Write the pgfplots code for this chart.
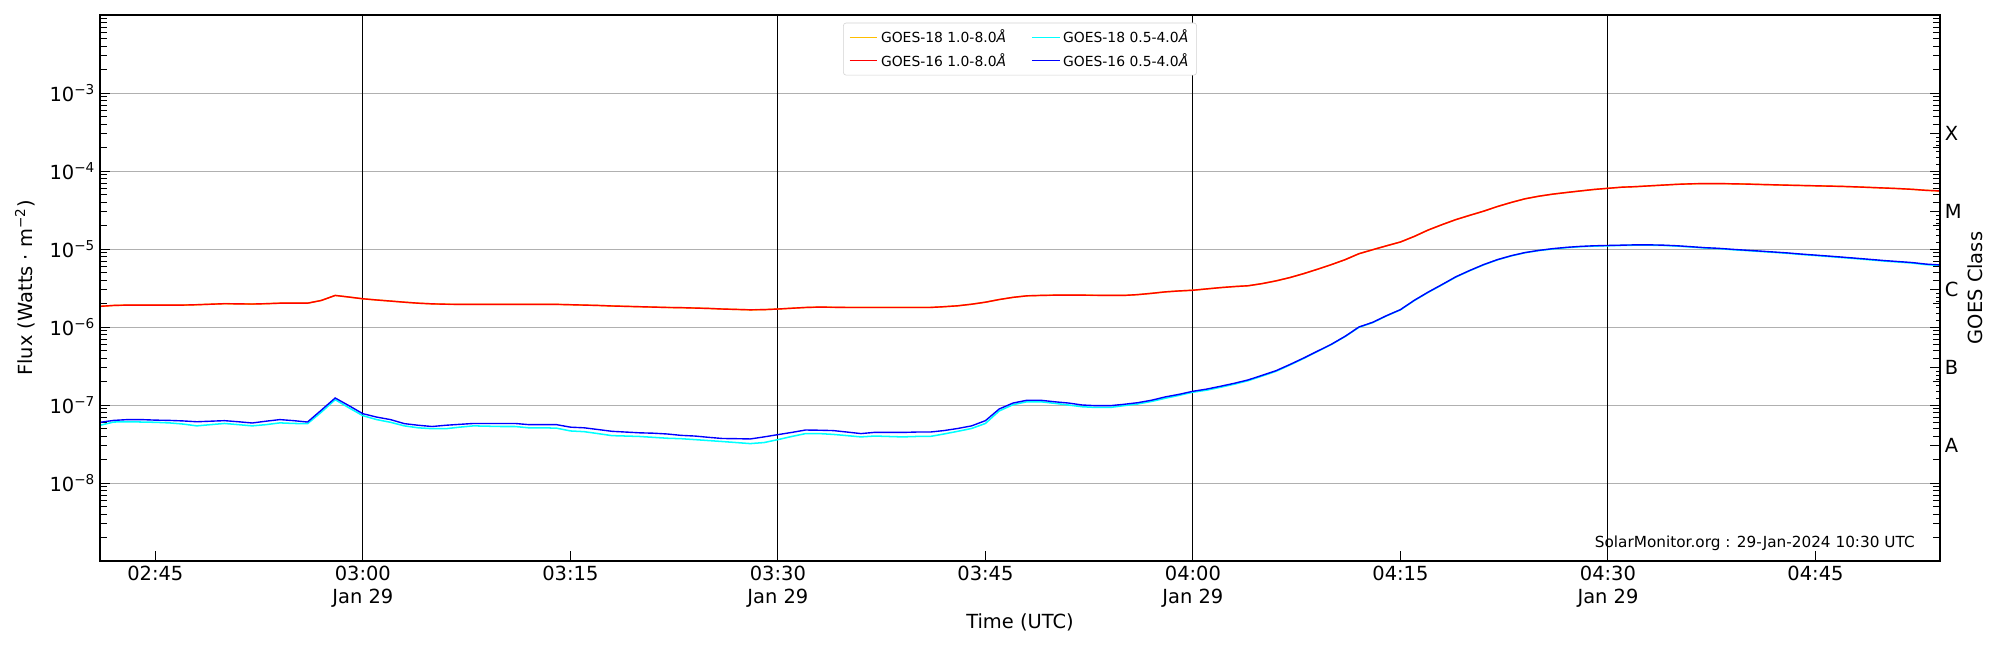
\documentclass[border=0pt]{standalone}
\usepackage{fontspec}
\setmainfont{DejaVu Sans}
\usepackage{pgfplots}
\usepackage{pgfplotstable}
\pgfplotsset{compat=1.18}
\definecolor{goldc}{RGB}{255,190,0}
\definecolor{cyanc}{RGB}{0,255,255}
\definecolor{redc}{RGB}{255,0,0}
\definecolor{bluec}{RGB}{0,0,255}
\definecolor{gridc}{RGB}{176,176,176}
\definecolor{legc}{RGB}{210,210,210}
\newlength\px
\setlength\px{0.72pt}

\pgfplotstableread{
m red blue cyan
41 1.84e-6 6.00e-8 5.50e-8
42 1.89e-6 6.35e-8 6.05e-8
43 1.91e-6 6.50e-8 6.10e-8
44 1.91e-6 6.50e-8 6.05e-8
45 1.91e-6 6.40e-8 6.00e-8
46 1.91e-6 6.35e-8 5.90e-8
47 1.91e-6 6.25e-8 5.70e-8
48 1.93e-6 6.10e-8 5.40e-8
49 1.96e-6 6.20e-8 5.60e-8
50 1.99e-6 6.30e-8 5.80e-8
51 1.98e-6 6.10e-8 5.60e-8
52 1.97e-6 5.88e-8 5.40e-8
53 1.99e-6 6.20e-8 5.60e-8
54 2.02e-6 6.50e-8 5.90e-8
55 2.02e-6 6.30e-8 5.80e-8
56 2.02e-6 6.05e-8 5.76e-8
57 2.19e-6 8.60e-8 8.10e-8
58 2.54e-6 1.23e-7 1.17e-7
59 2.42e-6 9.80e-8 9.20e-8
60 2.30e-6 7.74e-8 7.30e-8
61 2.22e-6 7.00e-8 6.50e-8
62 2.15e-6 6.50e-8 6.00e-8
63 2.08e-6 5.77e-8 5.40e-8
64 2.02e-6 5.50e-8 5.10e-8
65 1.98e-6 5.30e-8 4.97e-8
66 1.96e-6 5.50e-8 4.97e-8
67 1.95e-6 5.65e-8 5.20e-8
68 1.95e-6 5.80e-8 5.40e-8
69 1.95e-6 5.80e-8 5.35e-8
70 1.95e-6 5.80e-8 5.30e-8
71 1.95e-6 5.80e-8 5.30e-8
72 1.95e-6 5.60e-8 5.10e-8
73 1.95e-6 5.60e-8 5.10e-8
74 1.95e-6 5.60e-8 5.05e-8
75 1.93e-6 5.20e-8 4.65e-8
76 1.91e-6 5.10e-8 4.55e-8
77 1.89e-6 4.85e-8 4.30e-8
78 1.86e-6 4.60e-8 4.05e-8
79 1.84e-6 4.50e-8 4.00e-8
80 1.82e-6 4.40e-8 3.95e-8
81 1.80e-6 4.35e-8 3.85e-8
82 1.78e-6 4.25e-8 3.75e-8
83 1.77e-6 4.08e-8 3.70e-8
84 1.75e-6 4.00e-8 3.60e-8
85 1.73e-6 3.85e-8 3.50e-8
86 1.70e-6 3.72e-8 3.40e-8
87 1.68e-6 3.70e-8 3.30e-8
88 1.66e-6 3.67e-8 3.20e-8
89 1.67e-6 3.90e-8 3.30e-8
90 1.70e-6 4.17e-8 3.60e-8
91 1.74e-6 4.45e-8 3.95e-8
92 1.78e-6 4.78e-8 4.30e-8
93 1.80e-6 4.75e-8 4.30e-8
94 1.79e-6 4.70e-8 4.20e-8
95 1.78e-6 4.50e-8 4.05e-8
96 1.78e-6 4.30e-8 3.90e-8
97 1.78e-6 4.46e-8 4.00e-8
98 1.78e-6 4.45e-8 3.95e-8
99 1.78e-6 4.45e-8 3.90e-8
100 1.78e-6 4.50e-8 3.95e-8
101 1.78e-6 4.50e-8 3.95e-8
102 1.82e-6 4.70e-8 4.25e-8
103 1.87e-6 5.00e-8 4.60e-8
104 1.96e-6 5.40e-8 5.00e-8
105 2.08e-6 6.30e-8 5.80e-8
106 2.25e-6 8.90e-8 8.40e-8
107 2.40e-6 1.06e-7 1.01e-7
108 2.51e-6 1.15e-7 1.10e-7
109 2.54e-6 1.15e-7 1.10e-7
110 2.56e-6 1.10e-7 1.05e-7
111 2.56e-6 1.06e-7 1.00e-7
112 2.56e-6 1.00e-7 9.50e-8
113 2.55e-6 9.80e-8 9.30e-8
114 2.54e-6 9.80e-8 9.30e-8
115 2.54e-6 1.02e-7 9.80e-8
116 2.60e-6 1.07e-7 1.03e-7
117 2.70e-6 1.15e-7 1.11e-7
118 2.82e-6 1.27e-7 1.22e-7
119 2.90e-6 1.37e-7 1.33e-7
120 2.96e-6 1.50e-7 1.46e-7
121 3.08e-6 1.60e-7 1.55e-7
122 3.20e-6 1.74e-7 1.69e-7
123 3.30e-6 1.90e-7 1.85e-7
124 3.38e-6 2.10e-7 2.05e-7
125 3.60e-6 2.40e-7 2.35e-7
126 3.90e-6 2.75e-7 2.70e-7
127 4.30e-6 3.30e-7 3.25e-7
128 4.83e-6 4.00e-7 3.95e-7
129 5.50e-6 4.90e-7 4.85e-7
130 6.30e-6 6.00e-7 5.95e-7
131 7.30e-6 7.60e-7 7.55e-7
132 8.70e-6 1.00e-6 9.90e-7
133 9.80e-6 1.15e-6 1.14e-6
134 1.10e-5 1.40e-6 1.39e-6
135 1.23e-5 1.67e-6 1.66e-6
136 1.45e-5 2.20e-6 2.18e-6
137 1.75e-5 2.80e-6 2.78e-6
138 2.05e-5 3.50e-6 3.47e-6
139 2.38e-5 4.40e-6 4.36e-6
140 2.70e-5 5.30e-6 5.26e-6
141 3.05e-5 6.30e-6 6.25e-6
142 3.50e-5 7.30e-6 7.25e-6
143 3.95e-5 8.20e-6 8.15e-6
144 4.40e-5 9.00e-6 8.95e-6
145 4.75e-5 9.60e-6 9.55e-6
146 5.05e-5 1.01e-5 1.00e-5
147 5.30e-5 1.05e-5 1.04e-5
148 5.55e-5 1.08e-5 1.07e-5
149 5.80e-5 1.10e-5 1.09e-5
150 6.00e-5 1.11e-5 1.10e-5
151 6.20e-5 1.12e-5 1.11e-5
152 6.30e-5 1.13e-5 1.12e-5
153 6.45e-5 1.13e-5 1.12e-5
154 6.60e-5 1.12e-5 1.11e-5
155 6.75e-5 1.10e-5 1.09e-5
156 6.85e-5 1.07e-5 1.06e-5
157 6.90e-5 1.04e-5 1.03e-5
158 6.90e-5 1.02e-5 1.01e-5
159 6.85e-5 9.90e-6 9.80e-6
160 6.80e-5 9.65e-6 9.55e-6
161 6.72e-5 9.40e-6 9.30e-6
162 6.65e-5 9.15e-6 9.05e-6
163 6.58e-5 8.90e-6 8.80e-6
164 6.52e-5 8.60e-6 8.50e-6
165 6.46e-5 8.35e-6 8.25e-6
166 6.40e-5 8.10e-6 8.00e-6
167 6.34e-5 7.85e-6 7.75e-6
168 6.25e-5 7.60e-6 7.50e-6
169 6.15e-5 7.35e-6 7.25e-6
170 6.05e-5 7.10e-6 7.00e-6
171 5.95e-5 6.90e-6 6.80e-6
172 5.82e-5 6.70e-6 6.60e-6
173 5.65e-5 6.40e-6 6.30e-6
174 5.55e-5 6.25e-6 6.15e-6
}\goes

\begin{document}
\begin{tikzpicture}
\useasboundingbox (-100\px,-89\px) rectangle (1900\px,561\px);
\begin{axis}[
  at={(0,0)}, anchor=south west,
  scale only axis, width=1840\px, height=546\px,
  xmin=41, xmax=174,
  ymode=log, ymin=1e-9, ymax=1e-2,
  axis line style={black, line width=1pt},
  tick align=inside,
  major tick length=7pt, minor tick length=5pt,
  every tick/.style={black, line width=0.7pt},
  font=\fontsize{14}{16.8}\selectfont,
  xtick={45,60,75,90,105,120,135,150,165},
  xticklabels={02:45,03:00\\Jan 29,03:15,03:30\\Jan 29,03:45,04:00\\Jan 29,04:15,04:30\\Jan 29,04:45},
  xticklabel style={align=center, font=\fontsize{14}{16.8}\selectfont},
  xtick pos=bottom,
  extra x ticks={60,90,120,150},
  extra x tick labels={},
  extra x tick style={xmajorgrids=true, major grid style={black, line width=0.75pt}},
  ytick={1e-8,1e-7,1e-6,1e-5,1e-4,1e-3},
  yticklabels={10\textsuperscript{−8},10\textsuperscript{−7},10\textsuperscript{−6},10\textsuperscript{−5},10\textsuperscript{−4},10\textsuperscript{−3}},
  minor ytick={2e-9,3e-9,4e-9,5e-9,6e-9,7e-9,8e-9,9e-9,
    2e-8,3e-8,4e-8,5e-8,6e-8,7e-8,8e-8,9e-8,
    2e-7,3e-7,4e-7,5e-7,6e-7,7e-7,8e-7,9e-7,
    2e-6,3e-6,4e-6,5e-6,6e-6,7e-6,8e-6,9e-6,
    2e-5,3e-5,4e-5,5e-5,6e-5,7e-5,8e-5,9e-5,
    2e-4,3e-4,4e-4,5e-4,6e-4,7e-4,8e-4,9e-4,
    2e-3,3e-3,4e-3,5e-3,6e-3,7e-3,8e-3,9e-3},
  ytick pos=both,
  yticklabel pos=left,
  ymajorgrids=true,
  major grid style={gridc, line width=0.6pt},
  xlabel={Time (UTC)},
  xlabel style={at={(axis description cs:0.5,-0.1117)}, anchor=center},
  ylabel={Flux (Watts · m\textsuperscript{−2})},
  ylabel style={at={(axis description cs:-0.0408,0.5)}, anchor=center},
  legend columns=2,
  legend cell align=left,
  legend style={at={(axis description cs:0.5,1)}, anchor=north, yshift=-7.7\px,
    font=\fontsize{10}{12}\selectfont, draw=legc, rounded corners=2pt,
    inner xsep=4pt, inner ysep=3pt, row sep=2pt,
    /tikz/every even column/.append style={column sep=16pt}},
  legend image code/.code={\draw[#1, line width=1.1pt] (0pt,0pt) -- (20pt,0pt);},
]
\addplot[goldc, line width=1.1pt] table[x=m, y=red] {\goes};
\addlegendentry{GOES-18 1.0-8.0\textit{Å}}
\addplot[cyanc, line width=1.1pt] table[x=m, y=cyan] {\goes};
\addlegendentry{GOES-18 0.5-4.0\textit{Å}}
\addplot[redc, line width=1.0pt] table[x=m, y=red] {\goes};
\addlegendentry{GOES-16 1.0-8.0\textit{Å}}
\addplot[bluec, line width=1.0pt] table[x=m, y=blue] {\goes};
\addlegendentry{GOES-16 0.5-4.0\textit{Å}}
\node[anchor=east, font=\fontsize{11}{13}\selectfont, inner sep=0pt] at (rel axis cs:1,0) [xshift=-25\px, yshift=18\px] {SolarMonitor.org : 29-Jan-2024 10:30 UTC};
\end{axis}
\begin{axis}[
  at={(0,0)}, anchor=south west,
  scale only axis, width=1840\px, height=546\px,
  xmin=41, xmax=174,
  ymode=log, ymin=1e-9, ymax=1e-2,
  axis line style={black, line width=1pt},
  tick align=inside,
  major tick length=7pt,
  every tick/.style={black, line width=0.7pt},
  font=\fontsize{14}{16.8}\selectfont,
  xtick=\empty,
  ytick={3e-8,3e-7,3e-6,3e-5,3e-4},
  yticklabels={A,B,C,M,X},
  ytick pos=right,
  yticklabel pos=right,
  ylabel={GOES Class},
  ylabel style={at={(axis description cs:1.019,0.5)}, anchor=center},
]
\addplot[draw=none, forget plot] coordinates {(41,1e-8) (174,1e-8)};
\end{axis}
\end{tikzpicture}
\end{document}
